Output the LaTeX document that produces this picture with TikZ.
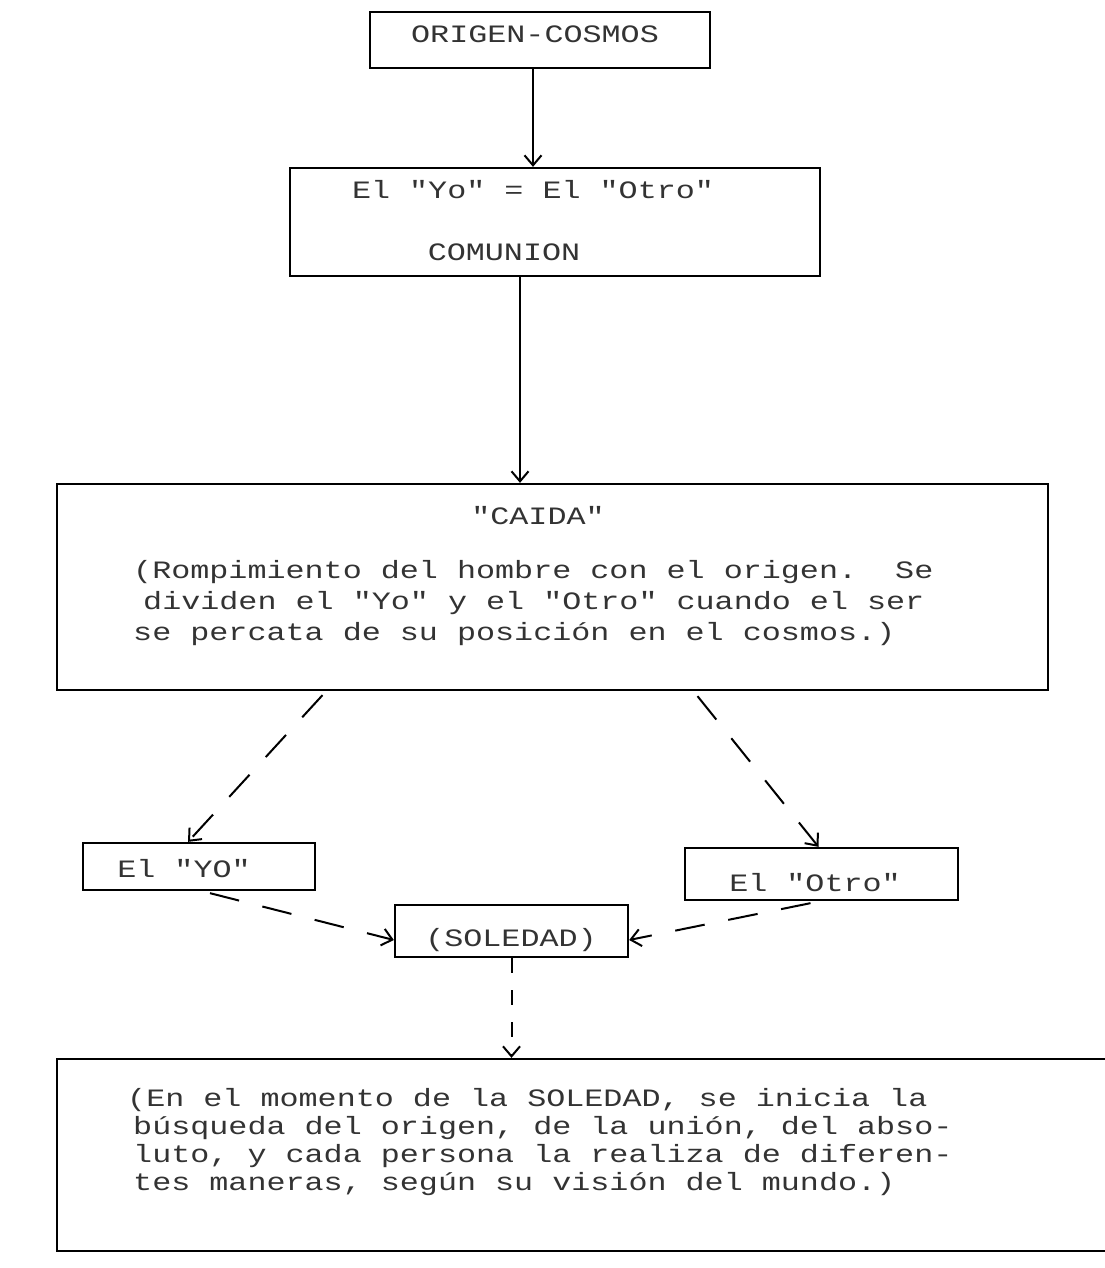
\documentclass[tikz,border=0pt]{standalone}
\usepackage{fontspec}
\newfontfamily\dotfont[FakeStretch=1.27]{Liberation Mono}
\usetikzlibrary{arrows.meta,calc}
\begin{document}
\begin{tikzpicture}[x=1pt,y=-1pt,
  boxst/.style={draw, line width=2.3pt, inner sep=0pt, rectangle},
  txt/.style={font=\dotfont\fontsize{25}{31}\selectfont\frenchspacing, text=black!80, inner sep=0pt},
  conn/.style={line width=2pt, -{Straight Barb[length=10pt,width=17pt,line width=2pt]}},
  dconn/.style={conn, dash pattern=on 30pt off 24pt},
  sconn/.style={conn, dash pattern=on 15pt off 17pt}]
\useasboundingbox (0,0) rectangle (1104,1268);

% boxes
\node[boxst, minimum width=340pt, minimum height=56pt] (orig) at (540,40) {};
\node[boxst, minimum width=530pt, minimum height=108pt] (comm) at (555,222) {};
\node[boxst, minimum width=991pt, minimum height=206pt] (caida) at (552.5,587) {};
\node[boxst, minimum width=232pt, minimum height=47pt] (yo) at (199,866.5) {};
\node[boxst, minimum width=273pt, minimum height=52pt] (otro) at (821.5,874) {};
\node[boxst, minimum width=233pt, minimum height=52pt] (sol) at (511.5,931) {};
\node[boxst, minimum width=1049pt, minimum height=192pt] (bot) at (581.5,1155) {};

% texts
\node[txt, anchor=base] (origT) at (535,43) {ORIGEN-COSMOS};
\node[txt, anchor=base] (commT1) at (533,199) {El "Yo" = El "Otro"};
\node[txt, anchor=base] (commT2) at (504,260) {COMUNION};
\node[txt, anchor=base] (caidaT) at (538,524) {"CAIDA"};
\node[txt, anchor=north west, align=left] (caidaP) at (133,560)
  {(Rompimiento del hombre con el origen.\ \ Se\\
   \hspace*{10pt}dividen el "Yo" y el "Otro" cuando el ser\\
   se percata de su posición en el cosmos.)};
\node[txt, anchor=base] (yoT) at (184,877) {El "YO"};
\node[txt, anchor=base] (otroT) at (815,891) {El "Otro"};
\node[txt, anchor=base] (solT) at (511,946) {(SOLEDAD)};
\node[txt, anchor=north west, align=left, font=\dotfont\fontsize{25}{28}\selectfont\frenchspacing] (botP) at (127,1088)
  {(En el momento de la SOLEDAD, se inicia la\\
   \hspace*{6pt}búsqueda del origen, de la unión, del abso-\\
   \hspace*{6pt}luto, y cada persona la realiza de diferen-\\
   \hspace*{6pt}tes maneras, según su visión del mundo.)};

% connectors
\draw[conn] ($(orig.south)+(-7,0)$) -- ($(orig.south |- comm.north)+(-7,0)$);
\draw[conn] ($(comm.south)+(-35,0)$) -- ($(comm.south |- caida.north)+(-35,0)$);
\draw[dconn] ($(caida.south)+(-230,4)$) -- ($(yo.north)+(-11,0)$);
\draw[dconn] ($(caida.south)+(145,5)$) -- ($(otro.north)+(-3,0)$);
\draw[dconn] ($(yo.south)+(11,2)$) -- ($(sol.west)+(0,9)$);
\draw[dconn] ($(otro.south)+(-11,2)$) -- ($(sol.east)+(0,9)$);
\draw[sconn] (sol.south) -- (sol.south |- bot.north);
\end{tikzpicture}
\end{document}
